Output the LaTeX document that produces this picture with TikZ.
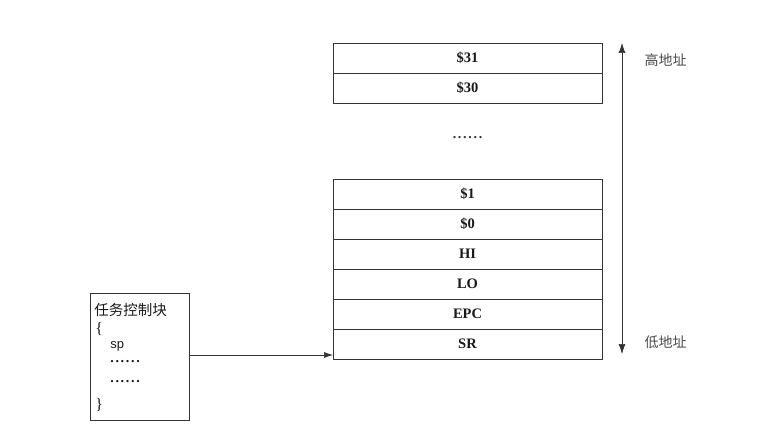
\documentclass[tikz,border=0pt]{standalone}
\usepackage{fontspec}
\setmainfont{Liberation Serif}
\newfontfamily\cjk{Noto Sans CJK SC}
\newfontfamily\arialfont{Liberation Sans}
\usetikzlibrary{arrows.meta}
% a row of six widely spaced bold dots
\newcommand\dotrow{\textbf{.\kern1.7pt.\kern1.7pt.\kern1.7pt.\kern1.7pt.\kern1.7pt.}}
\begin{document}
\begin{tikzpicture}[x=1pt,y=-1pt,
  line width=0.65pt,
  cell/.style={draw=black!80, minimum width=269pt, minimum height=30pt,
    inner sep=0pt, outer sep=0pt, font=\fontsize{14.5}{16}\selectfont\bfseries, text=black!90},
  lbl/.style={font=\cjk\fontsize{14}{16}\selectfont, text=black!70, anchor=west},
  body/.style={anchor=west, inner sep=0pt, text=black!90, font=\fontsize{14}{16}\selectfont},
  tip/.style={draw=black!80, -{Latex[length=9pt,width=6pt]}},
  dtip/.style={draw=black!80, {Latex[length=10pt,width=7pt]}-{Latex[length=10pt,width=7pt]}}]
\useasboundingbox[fill=white] (0,0) rectangle (770,435);

% upper register block
\node[cell] (r31) at (467.5,58) {\$31};
\node[cell, anchor=north] (r30) at (r31.south) {\$30};
\node[font=\fontsize{14}{16}\selectfont, text=black!80, inner sep=0pt] (gap) at (467.5,138) {\dotrow};

% lower register block
\node[cell] (r1) at (467.5,194) {\$1};
\node[cell, anchor=north] (r0) at (r1.south) {\$0};
\node[cell, anchor=north] (hi) at (r0.south) {HI};
\node[cell, anchor=north] (lo) at (hi.south) {LO};
\node[cell, anchor=north] (epc) at (lo.south) {EPC};
\node[cell, anchor=north] (sr) at (epc.south) {SR};

% address direction
\coordinate (top) at (622,43);
\coordinate (bot) at (622,354);
\draw[dtip] (bot) -- (top);
\node[lbl] (hiaddr) at (641,60) {高地址};
\node[lbl] (loaddr) at (641,342) {低地址};

% task control block
\node[draw=black!80, minimum width=99pt, minimum height=127pt, inner sep=0pt, outer sep=0pt] (tcb) at (139.5,356.5) {};
\node[body, font=\cjk\fontsize{14.5}{16}\selectfont] (tname) at (94,310) {任务控制块};
\node[body, font=\fontsize{16}{18}\selectfont] (lbrace) at (95,329) {\{};
\node[body, font=\arialfont\fontsize{13}{15}\selectfont] (spf) at (110,346) {sp};
\node[body] (d1) at (110,362) {\dotrow};
\node[body] (d2) at (110,382) {\dotrow};
\node[body, font=\fontsize{16}{18}\selectfont] (rbrace) at (95,405) {\}};

% link from the control block to the saved context
\draw[tip] (tcb.east |- 0,355) -- (sr.west |- 0,355);
\end{tikzpicture}
\end{document}
